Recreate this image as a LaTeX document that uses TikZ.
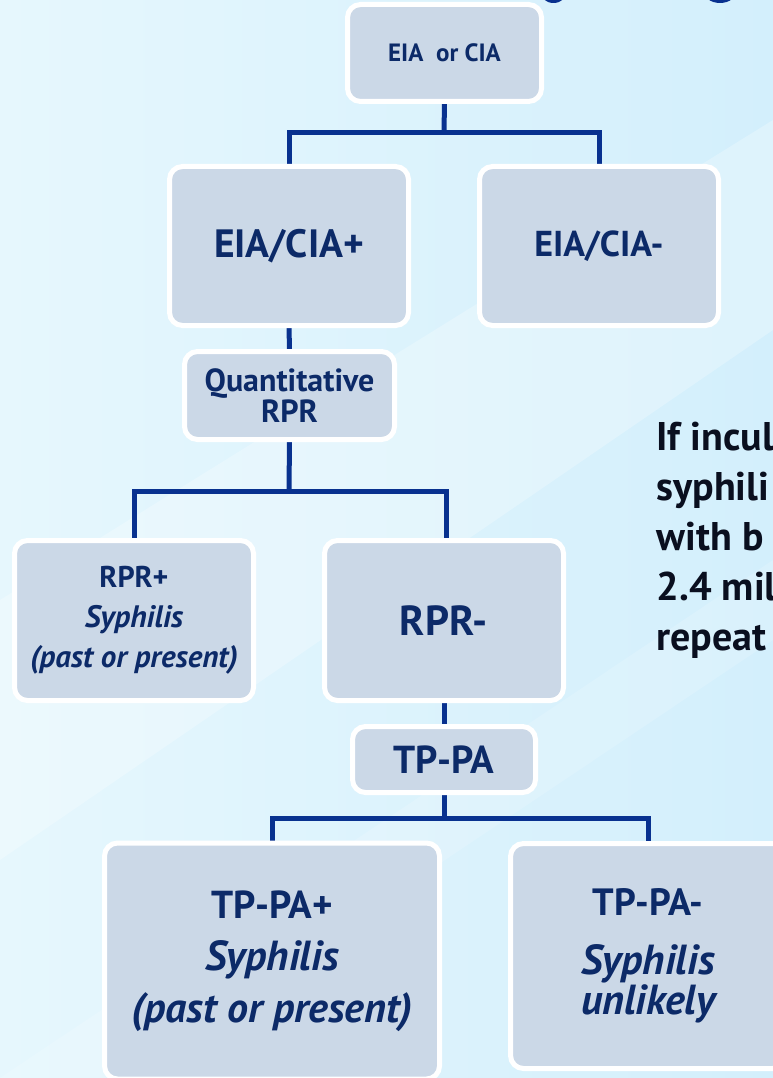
\documentclass[tikz,border=0pt]{standalone}
\usepackage{fontspec}
\setmainfont{PT Sans}
\usetikzlibrary{backgrounds}
\definecolor{bgleft}{HTML}{E6F7FD}
\definecolor{bgright}{HTML}{D3EFFC}
\definecolor{boxfill}{HTML}{CBD8E7}
\definecolor{linkblue}{HTML}{08318F}
\definecolor{navy}{HTML}{0C2A68}
\definecolor{inktext}{HTML}{0A0F1F}
\newcommand{\boxfont}[2]{\bfseries\fontsize{#1}{#2}\selectfont}
\newcommand{\itline}[3]{{\itshape\fontsize{#1}{#2}\selectfont #3}}

\tikzset{
  testbox/.style={draw=white, line width=5pt, fill=boxfill, rounded corners=13pt,
    outer sep=0pt, inner sep=0pt, align=center, text=navy},
  link/.style={draw=linkblue, line width=5pt},
}

\begin{document}
\begin{tikzpicture}[x=1pt,y=-1pt]
\useasboundingbox (0,0) rectangle (773,1078);
\clip (0,0) rectangle (773,1078);

%the boxes
    \node[testbox, minimum width=194pt, minimum height=97pt, font=\boxfont{25}{28}] (eia) at (444.5,53) {EIA\ \ or CIA};
    \node[testbox, minimum width=239pt, minimum height=159pt, font=\boxfont{39.5}{40}] (pos) at (289,246) {EIA/CIA+};
    \node[testbox, minimum width=239pt, minimum height=159pt, font=\boxfont{36}{38}] (neg) at (599,246) {EIA/CIA-};
    \node[testbox, minimum width=210pt, minimum height=88pt, font=\boxfont{32}{31}] (qrpr) at (289.5,395.5) {Quantitative\\RPR};
    \node[testbox, minimum width=239pt, minimum height=160pt, font=\boxfont{30}{40}] (rprpos) at (134,620.5)
        {RPR+\\\itline{31}{40}{Syphilis}\\\itline{31}{40}{(past or present)}};
    \node[testbox, minimum width=239pt, minimum height=160pt, font=\boxfont{42}{44}] (rprneg) at (444,620.5) {RPR-};
    \node[testbox, minimum width=183pt, minimum height=66pt, font=\boxfont{39}{40}] (tppa) at (444,759.5) {TP-PA};
    \node[testbox, minimum width=335pt, minimum height=236pt, font=\boxfont{39}{52}] (tppos) at (272,961)
        {TP-PA+\\\itline{42}{52}{Syphilis}\\\itline{42}{52}{(past or present)}};
    \node[testbox, minimum width=275pt, minimum height=225pt, font=\boxfont{38}{30}] (tpneg) at (648,956)
        {TP-PA-\\[29pt]\itline{42}{30}{Syphilis}\\\itline{42}{30}{unlikely}};

%the note at the right edge
    \node[anchor=base west, align=left, text=inktext, font=\boxfont{40}{50}] (note) at (653,650) {If incul\\syphili\\with b\\2.4 mil\\repeat};

%the junctions of the bars
    \coordinate (j1) at (444,133);
    \coordinate (j2) at (289,491);
    \coordinate (j3) at (444,818);

\begin{scope}[on background layer]
    \shade[left color=bgleft, right color=bgright] (0,0) rectangle (773,1078);
    \fill[white, opacity=0.25] (0,600) -- (0,860) -- (773,330) -- (773,120) -- cycle;
    \fill[white, opacity=0.15] (0,1078) -- (120,1078) -- (773,640) -- (773,560) -- cycle;
% bottoms of the cut title
    \fill[linkblue] (553.5,-9) ellipse (13.5 and 12);
    \fill[linkblue] (720,-10) ellipse (17 and 13);
% the connectors
    \draw[link] (eia.south) -- (j1);
    \draw[link] (pos.north) |- (j1) -| (neg.north);
    \draw[link] (pos.south) -- (qrpr.north);
    \draw[link] (qrpr.south) -- (j2);
    \draw[link] (rprpos.north) |- (j2) -| ([xshift=2pt]rprneg.north);
    \draw[link] (rprneg.south) -- (tppa.north);
    \draw[link] (tppa.south) -- (j3);
    \draw[link] (tppos.north) |- (j3) -| (tpneg.north);
\end{scope}
\end{tikzpicture}
\end{document}
